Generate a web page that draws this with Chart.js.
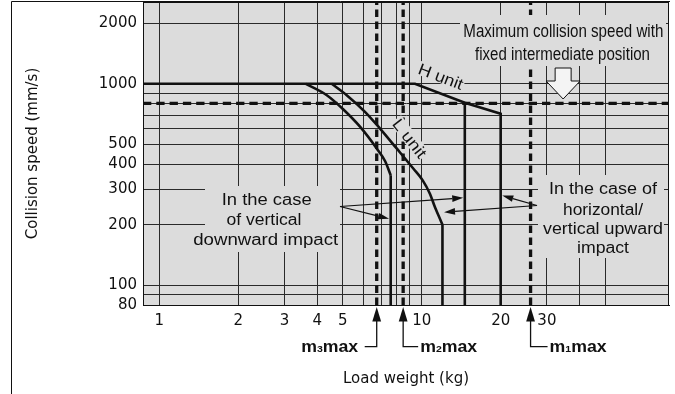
<!DOCTYPE html>
<html><head><meta charset="utf-8">
<script src="https://cdn.jsdelivr.net/npm/chart.js@4"></script>
<style>html,body{margin:0;padding:0;background:#fff;}</style>
</head><body>
<canvas id="c" width="675" height="394"></canvas>
<script>
// ---------------- data ----------------
const xTicks = [1, 2, 3, 4, 5, 6, 7, 8, 9, 10, 20, 30, 40, 50];
const xLabels = [1, 2, 3, 4, 5, 10, 20, 30];
const yTicks = [80, 90, 100, 200, 300, 400, 500, 600, 700, 800, 900, 1000, 2000];
const yLabels = [80, 100, 200, 300, 400, 500, 1000, 2000];
const xRange = [0.867, 87.6];
const yRange = [80, 2545];

// H unit (horizontal / vertical upward impact)
const hUnitX = [0.867, 9.43, 14.6, 20, 20];
const hUnitY = [1000, 1000, 805, 710, 80];
// H unit (vertical downward impact) cut-off
const hDownX = [14.6, 14.6];
const hDownY = [805, 80];
// L unit (horizontal / vertical upward impact)
const lUnitX = [4.54, 5.18, 6.08, 6.94, 8.03, 9.29, 10.09, 10.75, 11.24, 11.67, 12, 12];
const lUnitY = [1000, 878, 726, 600, 478, 380, 332, 285, 244, 218, 200, 80];
// L unit (vertical downward impact)
const lDownX = [3.62, 4.35, 5.02, 5.82, 6.74, 7.25, 7.62, 7.62];
const lDownY = [1000, 878, 748, 613, 478, 414, 352, 80];
// maximum collision speed with fixed intermediate position
const maxSpeed = 800;
// maximum load weights
const mNames = ['3', '2', '1'];
const mValues = [6.74, 8.5, 26];

// ---------------- helpers ----------------
const pts = (xs, ys) => xs.map((x, i) => ({ x, y: ys[i] }));
const BLACK = '#111';
const curve = (xs, ys) => ({
  data: pts(xs.slice(0, -1), ys.slice(0, -1)), borderColor: BLACK, borderWidth: 2.6,
  pointRadius: 0, cubicInterpolationMode: 'monotone', fill: false
});
const drop = (xs, ys) => ({
  data: pts(xs.slice(-2), ys.slice(-2)), borderColor: BLACK, borderWidth: 2.6,
  pointRadius: 0, tension: 0, fill: false
});

const datasets = [
  { data: pts(hUnitX, hUnitY), borderColor: BLACK, borderWidth: 2.6, pointRadius: 0, tension: 0, fill: false },
  { data: pts(hDownX, hDownY), borderColor: BLACK, borderWidth: 2.6, pointRadius: 0, tension: 0, fill: false },
  curve(lUnitX, lUnitY), drop(lUnitX, lUnitY),
  curve(lDownX, lDownY), drop(lDownX, lDownY),
  { data: [{ x: xRange[0], y: maxSpeed }, { x: xRange[1], y: maxSpeed }], borderColor: BLACK,
    borderWidth: 3.4, borderDash: [8.3, 5], pointRadius: 0, fill: false },
  ...mValues.map(m => ({ data: [{ x: m, y: yRange[0] }, { x: m, y: yRange[1] }], borderColor: BLACK,
    borderWidth: 3.3, borderDash: [7.5, 4.5], pointRadius: 0, fill: false }))
];

const GRAY = '#dcdcdc';
const FONT = '"Liberation Sans", Arial, Helvetica, sans-serif';

function txt(ctx, s, x, y, size, targetW, align, weight) {
  ctx.save();
  ctx.font = (weight || 'normal') + ' ' + size + 'px ' + FONT;
  const w = ctx.measureText(s).width;
  const sx = targetW ? targetW / w : 1;
  ctx.translate(x, y);
  ctx.scale(sx, 1);
  ctx.textAlign = align || 'center';
  ctx.textBaseline = 'alphabetic';
  ctx.fillStyle = BLACK;
  ctx.fillText(s, 0, 0);
  ctx.restore();
}
function arrowLine(ctx, x0, y0, x1, y1) {
  ctx.save();
  ctx.strokeStyle = BLACK; ctx.fillStyle = BLACK; ctx.lineWidth = 1.2;
  const a = Math.atan2(y1 - y0, x1 - x0), L = 11, H = 3.3;
  const bx = x1 - L * Math.cos(a), by = y1 - L * Math.sin(a);
  ctx.beginPath(); ctx.moveTo(x0, y0); ctx.lineTo(bx, by); ctx.stroke();
  ctx.beginPath(); ctx.moveTo(x1, y1);
  ctx.lineTo(bx + H * Math.sin(a), by - H * Math.cos(a));
  ctx.lineTo(bx - H * Math.sin(a), by + H * Math.cos(a));
  ctx.closePath(); ctx.fill();
  ctx.restore();
}
function rotLabel(ctx, s, cx, cy, deg, targetW) {
  ctx.save();
  ctx.translate(cx, cy); ctx.rotate(deg * Math.PI / 180);
  ctx.fillStyle = GRAY; ctx.fillRect(-targetW / 2 - 1, -7, targetW + 2, 14);
  ctx.restore();
  ctx.save();
  ctx.translate(cx, cy); ctx.rotate(deg * Math.PI / 180);
  txt(ctx, s, 0, 6, 16, targetW, 'center');
  ctx.restore();
}

const annot = {
  id: 'annot',
  beforeDraw(chart) {
    const { ctx, chartArea: a } = chart;
    ctx.save(); ctx.fillStyle = GRAY; ctx.fillRect(a.left, a.top, a.right - a.left, a.bottom - a.top); ctx.restore();
  },
  afterDatasetsDraw(chart) {
    const { ctx, chartArea: a, scales } = chart;
    const px = v => scales.x.getPixelForValue(v);
    const py = v => scales.y.getPixelForValue(v);
    ctx.save();
    ctx.fillStyle = GRAY;
    // masks behind annotation texts
    ctx.fillRect(460, 15, 206, 26);
    ctx.fillRect(472, 41, 181, 25);
    ctx.fillRect(205, 186, 135, 66);
    ctx.fillRect(538, 175, 126, 83);
    ctx.restore();

    // "Maximum collision speed" block
    txt(ctx, 'Maximum collision speed with', 563.3, 36.7, 17.5, 200);
    txt(ctx, 'fixed intermediate position', 562.5, 60, 17.5, 175);
    // hollow arrow
    const ax = px(34.6);
    ctx.save();
    ctx.beginPath();
    ctx.moveTo(ax - 8, 68); ctx.lineTo(ax + 8, 68); ctx.lineTo(ax + 8, 81);
    ctx.lineTo(ax + 17, 81); ctx.lineTo(ax, 99); ctx.lineTo(ax - 17, 81); ctx.lineTo(ax - 8, 81);
    ctx.closePath();
    ctx.fillStyle = '#f4f4f4'; ctx.fill();
    ctx.strokeStyle = BLACK; ctx.lineWidth = 1; ctx.stroke();
    ctx.restore();

    // left block
    txt(ctx, 'In the case', 266.7, 205, 16, 90);
    txt(ctx, 'of vertical', 264, 225, 16, 75);
    txt(ctx, 'downward impact', 265.7, 245, 16, 145);
    arrowLine(ctx, 340, 206.5, px(lDownX[lDownX.length - 1]) - 1.6, py(214));
    arrowLine(ctx, 340, 206.5, px(hDownX[0]) - 1.6, py(272));
    // right block
    txt(ctx, 'In the case of', 603, 193.5, 16, 108);
    txt(ctx, 'horizontal/', 603, 214.5, 16, 80);
    txt(ctx, 'vertical upward', 603, 234.3, 16, 120);
    txt(ctx, 'impact', 603, 253.3, 16, 52);
    arrowLine(ctx, 537, 205.5, px(20) + 1.6, py(279));
    arrowLine(ctx, 537, 205.5, px(12) + 1.6, py(231));

    // unit labels
    rotLabel(ctx, 'H unit', 441, 76, 21, 47);
    rotLabel(ctx, 'L unit', 410, 138, 52, 45);

    // frame
    ctx.save();
    ctx.strokeStyle = BLACK; ctx.lineWidth = 1;
    ctx.strokeRect(a.left + 0.5, a.top + 0.5, a.right - a.left - 1, a.bottom - a.top);
    ctx.beginPath(); ctx.moveTo(11.5, 394); ctx.lineTo(11.5, 1.5); ctx.lineTo(670, 1.5); ctx.stroke();
    ctx.restore();

    // m max pointers
    mValues.forEach((m, i) => {
      const x = px(m);
      ctx.save();
      ctx.fillStyle = BLACK; ctx.strokeStyle = BLACK; ctx.lineWidth = 1.3;
      ctx.beginPath(); ctx.moveTo(x, 307); ctx.lineTo(x + 4.4, 321.5); ctx.lineTo(x - 4.4, 321.5); ctx.closePath(); ctx.fill();
      const left = i === 0;
      const hx = left ? x - 12 : x + (i === 1 ? 15 : 17);
      ctx.beginPath(); ctx.moveTo(x, 321); ctx.lineTo(x, 346.7); ctx.lineTo(hx, 346.7); ctx.stroke();
      const f1 = 'bold 16px ' + FONT, f2 = 'bold 9.5px ' + FONT;
      ctx.font = f1; const wm = ctx.measureText('m').width, wmax = ctx.measureText('max').width;
      ctx.font = f2; const ws = ctx.measureText(mNames[i]).width;
      const total = wm + ws + wmax;
      const sx = 57 / total;
      const start = left ? x - 18.5 - 57 : hx + 2;
      ctx.translate(start, 351.5); ctx.scale(sx, 1);
      ctx.textAlign = 'left'; ctx.textBaseline = 'alphabetic';
      ctx.font = f1; ctx.fillText('m', 0, 0);
      ctx.font = f2; ctx.fillText(mNames[i], wm, 0);
      ctx.font = f1; ctx.fillText('max', wm + ws, 0);
      ctx.restore();
    });
  }
};

const tickFont = { family: '"DejaVu Sans", sans-serif', size: 15 };
new Chart(document.getElementById('c').getContext('2d'), {
  type: 'line',
  data: { datasets },
  options: {
    responsive: false, animation: false, devicePixelRatio: 1,
    layout: { padding: { left: 0, right: 6, top: 2, bottom: 0 } },
    plugins: { legend: { display: false }, tooltip: { enabled: false } },
    scales: {
      x: {
        type: 'logarithmic', min: xRange[0], max: xRange[1],
        afterBuildTicks: s => { s.ticks = xTicks.map(v => ({ value: v })); },
        afterFit: s => { s.height = 89; s.paddingLeft = 0; s.paddingRight = 0; },
        grid: { color: '#2a2a2a', lineWidth: 1, drawTicks: false },
        border: { display: true, color: BLACK, width: 1 },
        ticks: { autoSkip: false, maxRotation: 0, padding: 7, color: BLACK, font: tickFont,
          callback: v => xLabels.includes(v) ? String(v) : '' },
        title: { display: true, text: 'Load weight (kg)', color: BLACK, font: tickFont, padding: { top: 0, bottom: 6 } }
      },
      y: {
        type: 'logarithmic', min: yRange[0], max: yRange[1],
        afterBuildTicks: s => { s.ticks = yTicks.map(v => ({ value: v })); },
        afterFit: s => { s.width = 143; s.paddingTop = 0; s.paddingBottom = 0; },
        grid: { color: '#2a2a2a', lineWidth: 1, drawTicks: false },
        border: { display: true, color: BLACK, width: 1 },
        ticks: { autoSkip: false, padding: 6, color: BLACK, font: tickFont,
          callback: v => yLabels.includes(v) ? String(v) : '' },
        title: { display: true, text: 'Collision speed (mm/s)', color: BLACK, font: tickFont, padding: { top: 24, bottom: 0 } }
      }
    }
  },
  plugins: [annot]
});
</script>
</body></html>
